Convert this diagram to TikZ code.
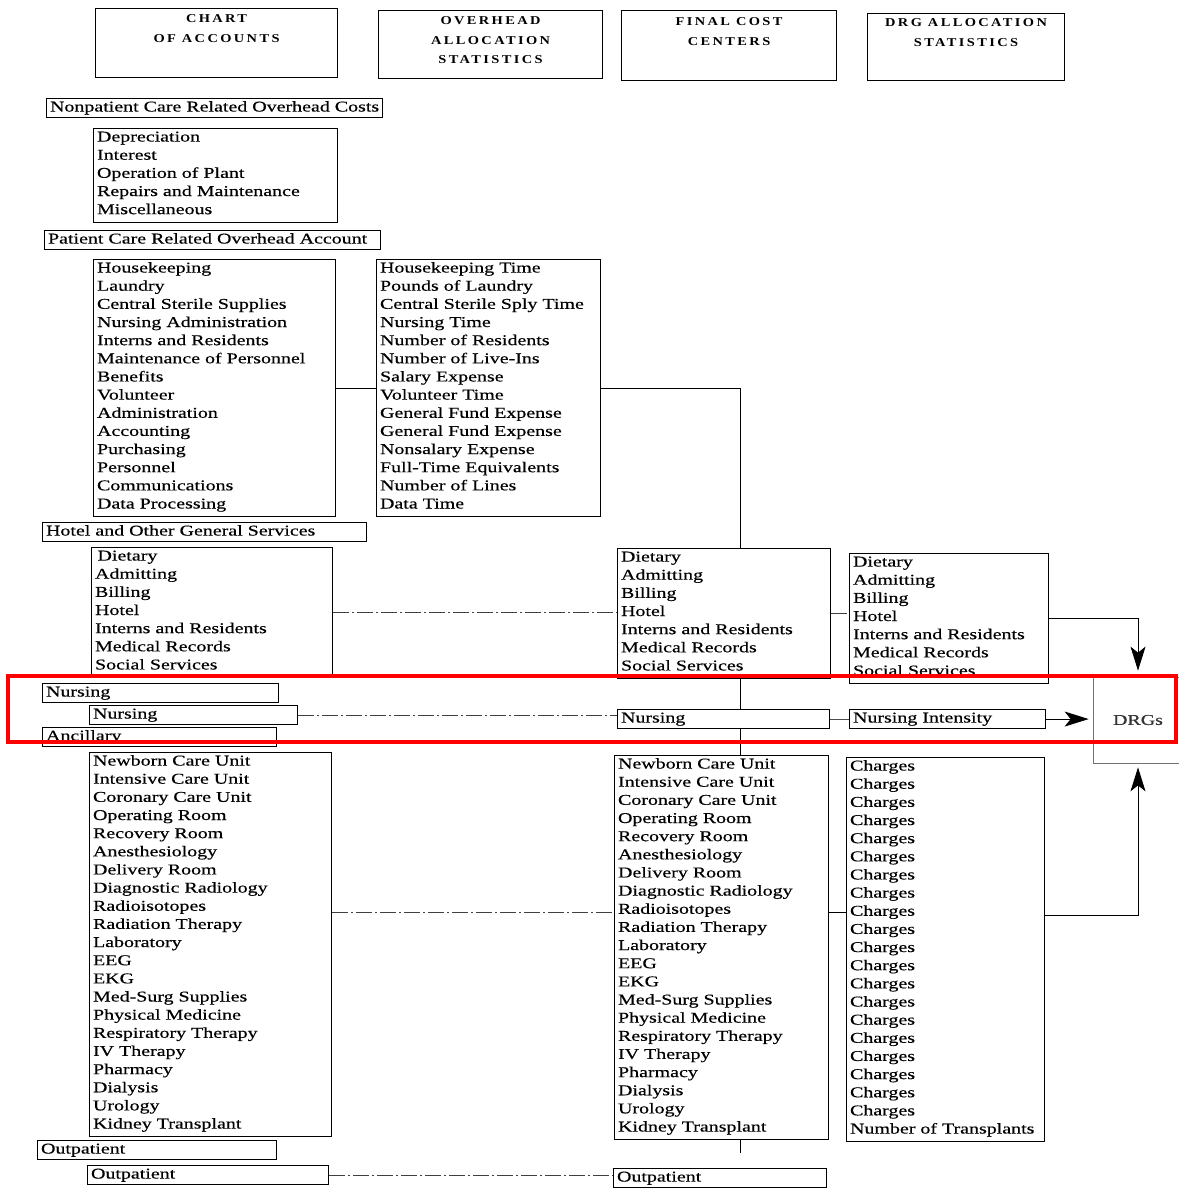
\documentclass[tikz,border=0pt]{standalone}
\usepackage{fontspec}
\setmainfont[FakeStretch=1.33,FakeBold=0.4]{Liberation Serif}
\newfontfamily\headfont[FakeStretch=1.2,LetterSpace=20]{Liberation Serif}
\usetikzlibrary{arrows.meta}

\newcommand{\itemfont}{\fontsize{15}{18.15}\selectfont}
\newcommand{\capsfont}{\headfont\bfseries\fontsize{12}{19.5}\selectfont}

\begin{document}
\begin{tikzpicture}[x=1pt, y=-1pt, line width=0.9pt,
    headbox/.style={draw, line width=1.1pt, anchor=north west, align=center,
      inner sep=0pt, font=\capsfont},
    sect/.style={draw, line width=1.1pt, anchor=north west, align=left,
      inner xsep=3.5pt, inner ysep=0pt, text height=13pt, text depth=6pt, font=\itemfont},
    list/.style={draw, line width=1.1pt, anchor=north west, align=left,
      inner xsep=3.5pt, inner ysep=0pt, text height=13pt, font=\itemfont,
      execute at end node={\rule[-8pt]{0pt}{8pt}}},
    faint/.style={black!75, dash pattern=on 16pt off 3pt on 2pt off 3pt},
    arr/.style={-{Stealth[length=24pt,width=15pt,inset=6pt]}}]
  \path[use as bounding box, fill=white] (0,0) rectangle (1178,1188);

  % column headings
  \node[headbox, text width=242pt, text height=14pt, text depth=55pt] (coa) at (95,8) {CHART\\OF\enspace ACCOUNTS};
  \node[headbox, text width=224pt, text height=14pt, text depth=54pt] (oas) at (378,10) {OVERHEAD\\ALLOCATION\\STATISTICS};
  \node[headbox, text width=215pt, text height=15pt, text depth=55pt] (fcc) at (621,10) {FINAL\enspace COST\\CENTERS};
  \node[headbox, text width=197pt, text height=13pt, text depth=54pt] (das) at (867,13) {DRG\enspace ALLOCATION\\STATISTICS};

  % chart of accounts
  \node[sect, text width=329pt] (npc) at (46,98) {\mbox{Nonpatient Care Related Overhead Costs}};
  \node[list, text width=237pt] (npcl) at (93,128) {Depreciation\\Interest\\Operation of Plant\\Repairs and Maintenance\\Miscellaneous};
  \node[sect, text width=329pt] (pca) at (44,230) {Patient Care Related Overhead Account};
  \node[list, text width=235pt] (pcal) at (93,259) {Housekeeping\\Laundry\\Central Sterile Supplies\\Nursing Administration\\Interns and Residents\\Maintenance of Personnel\\Benefits\\Volunteer\\Administration\\Accounting\\Purchasing\\Personnel\\Communications\\Data Processing};
  \node[sect, text width=317pt] (hog) at (42,522) {Hotel and Other General Services};
  \node[list, text width=234pt] (hogl) at (91,547) {\,Dietary\\Admitting\\Billing\\Hotel\\Interns and Residents\\Medical Records\\Social Services};
  \node[sect, text width=229pt] (nurh) at (42,683) {Nursing};
  \node[sect, text width=201pt] (nur) at (89,705) {Nursing};
  \node[sect, text width=227pt] (anch) at (42,727) {Ancillary};
  \node[list, text width=235pt] (ancl) at (89,752) {Newborn Care Unit\\Intensive Care Unit\\Coronary Care Unit\\Operating Room\\Recovery Room\\Anesthesiology\\Delivery Room\\Diagnostic Radiology\\Radioisotopes\\Radiation Therapy\\Laboratory\\EEG\\EKG\\Med-Surg Supplies\\Physical Medicine\\Respiratory Therapy\\IV Therapy\\Pharmacy\\Dialysis\\Urology\\Kidney Transplant};
  \node[sect, text width=232pt] (outh) at (37,1140) {Outpatient};
  \node[sect, text width=234pt] (out) at (87,1165) {Outpatient};

  % overhead allocation statistics
  \node[list, text width=217pt] (ovh) at (376,259) {Housekeeping Time\\Pounds of Laundry\\Central Sterile Sply Time\\Nursing Time\\Number of Residents\\Number of Live-Ins\\Salary Expense\\Volunteer Time\\General Fund Expense\\General Fund Expense\\Nonsalary Expense\\Full-Time Equivalents\\Number of Lines\\Data Time};

  % final cost centers
  \node[list, text width=206pt] (fhot) at (617,548) {Dietary\\Admitting\\Billing\\Hotel\\Interns and Residents\\Medical Records\\Social Services};
  \node[sect, text width=205pt] (fnur) at (617,709) {Nursing};
  \node[list, text width=207pt] (fanc) at (614,755) {Newborn Care Unit\\Intensive Care Unit\\Coronary Care Unit\\Operating Room\\Recovery Room\\Anesthesiology\\Delivery Room\\Diagnostic Radiology\\Radioisotopes\\Radiation Therapy\\Laboratory\\EEG\\EKG\\Med-Surg Supplies\\Physical Medicine\\Respiratory Therapy\\IV Therapy\\Pharmacy\\Dialysis\\Urology\\Kidney Transplant};
  \node[sect, text width=206pt] (fout) at (613,1168) {Outpatient};

  % DRG allocation statistics
  \node[list, text width=192pt] (dhot) at (849,553) {Dietary\\Admitting\\Billing\\Hotel\\Interns and Residents\\Medical Records\\Social Services};
  \node[sect, text width=189pt] (nint) at (849,709) {Nursing Intensity};
  \node[list, text width=191pt] (chg) at (846,757) {Charges\\Charges\\Charges\\Charges\\Charges\\Charges\\Charges\\Charges\\Charges\\Charges\\Charges\\Charges\\Charges\\Charges\\Charges\\Charges\\Charges\\Charges\\Charges\\Charges\\Number of Transplants};

  \node[draw=black!55, line width=0.7pt, minimum width=90pt, minimum height=86pt,
    inner sep=0pt, font=\itemfont, text=black!80] (drg) at (1138,720) {DRGs};

  \coordinate (vx) at (740,0);
  \coordinate (tick) at (740,1153);

  % connectors
  \draw (pcal.east) -- (pcal.east -| ovh.west);
  \draw (ovh.east) -| (fhot.north -| vx);
  \draw (fhot.south -| vx) -- (fnur.north -| vx);
  \draw (fnur.south -| vx) -- (fanc.north -| vx);
  \draw (fanc.south -| vx) -- (tick);

  \draw[faint] (hogl.east) -- (hogl.east -| fhot.west);
  \draw[faint] (fhot.east) -- (fhot.east -| dhot.west);
  \draw[arr] (dhot.east) -| ([yshift=6]drg.north);

  \draw[faint] (nur.east) -- (nur.east -| fnur.west);
  \draw[black!70] (fnur.east) -- (fnur.east -| nint.west);
  \draw[arr] (nint.east) -- ([xshift=-4]nint.east -| drg.west);

  \draw[faint] ([yshift=32]ancl.east) -- ([yshift=32]ancl.east -| fanc.west);
  \draw ([yshift=35]fanc.east) -- ([yshift=35]fanc.east -| chg.west);
  \draw[arr] ([yshift=34]chg.east) -| ([yshift=-4]drg.south);

  \draw[faint] (out.east) -- (out.east -| fout.west);

  % highlight
  \draw[red, line width=3.5pt] (8,676) rectangle (1176,742);
\end{tikzpicture}
\end{document}
